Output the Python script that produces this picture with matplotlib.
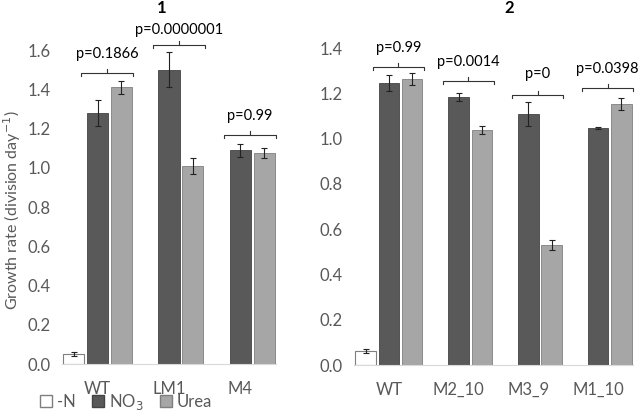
import matplotlib
matplotlib.use("Agg")
import matplotlib.pyplot as plt
from matplotlib.patches import Patch
import numpy as np

plt.rcParams['font.family'] = ['Lato', 'DejaVu Sans']

# ---- data: panel 1 ----
strains1 = ['WT', 'LM1', 'M4']
minusN1 = [0.05, None, None]
minusN1_err = [0.01, None, None]
no3_1 = [1.28, 1.50, 1.09]
no3_1_err = [0.066, 0.09, 0.033]
urea1 = [1.41, 1.01, 1.075]
urea1_err = [0.033, 0.04, 0.025]
pvals1 = ['p=0.1866', 'p=0.0000001', 'p=0.99']
bracket_y1 = [1.483, 1.625, 1.167]
ptext_y1 = [1.59, 1.71, 1.274]

# ---- data: panel 2 ----
strains2 = ['WT', 'M2_10', 'M3_9', 'M1_10']
minusN2 = [0.062, None, None, None]
minusN2_err = [0.01, None, None, None]
no3_2 = [1.245, 1.184, 1.109, 1.047]
no3_2_err = [0.035, 0.018, 0.053, 0.004]
urea2 = [1.263, 1.038, 0.53, 1.153]
urea2_err = [0.027, 0.018, 0.02, 0.027]
pvals2 = ['p=0.99', 'p=0.0014', 'p=0', 'p=0.0398']
bracket_y2 = [1.316, 1.254, 1.193, 1.223]
ptext_y2 = [1.405, 1.343, 1.294, 1.316]

C_NO3 = '#595959'
C_UREA = '#a6a6a6'
EDGE = '#7f7f7f'
TXT = '#595959'

fig = plt.figure(figsize=(6.38, 4.12), dpi=100)
ax1 = fig.add_axes([0.0972, 0.1165, 0.3354, 0.762])
ax2 = fig.add_axes([0.5549, 0.114, 0.4373, 0.7694])


def draw_panel(ax, strains, mn, mn_err, no3, no3_err, urea, urea_err, pvals, by, ty, ymax, ppu):
    x = np.arange(len(strains))
    w = 0.295
    off = 1 / 3
    ekw = dict(ecolor='#222222', elinewidth=0.8, capthick=0.8)
    for i in range(len(strains)):
        if mn[i] is not None:
            ax.bar(x[i] - off, mn[i], w, color='white', edgecolor=EDGE, linewidth=0.8,
                   yerr=mn_err[i], capsize=2, error_kw=ekw)
    ax.bar(x, no3, w, color=C_NO3, edgecolor='#444444', linewidth=0.6,
           yerr=no3_err, capsize=2, error_kw=ekw)
    ax.bar(x + off, urea, w, color=C_UREA, edgecolor=EDGE, linewidth=0.6,
           yerr=urea_err, capsize=2, error_kw=ekw)

    # significance brackets
    d = 3 / ppu
    for i in range(len(strains)):
        x0, x1 = x[i] - 0.23, x[i] + 0.5
        xm = (x0 + x1) / 2
        y = by[i]
        ax.plot([x0, x0, x1, x1], [y - d, y, y, y - d], color='#333333', lw=0.8, clip_on=False)
        ax.plot([xm, xm], [y, y + 4 / ppu], color='#333333', lw=0.8, clip_on=False)
        ax.text(xm, ty[i], pvals[i], ha='center', va='center_baseline', fontsize=10.5, color='black')

    ax.set_xlim(-0.5, len(strains) - 0.5)
    ax.set_ylim(0, ymax)
    ticks = np.arange(0, ymax + 0.01, 0.2)
    ax.set_yticks(ticks)
    ax.set_yticklabels([f'{v:.1f}' for v in ticks])
    ax.set_xticks(x)
    ax.set_xticklabels(strains)
    for s in ['top', 'right', 'left']:
        ax.spines[s].set_visible(False)
    ax.spines['bottom'].set_color('#d9d9d9')
    ax.tick_params(length=0, labelsize=12, colors=TXT, pad=12)
    ax.tick_params(axis='y', pad=8)


draw_panel(ax1, strains1, minusN1, minusN1_err, no3_1, no3_1_err, urea1, urea1_err,
           pvals1, bracket_y1, ptext_y1, 1.6, 196.25)
draw_panel(ax2, strains2, minusN2, minusN2_err, no3_2, no3_2_err, urea2, urea2_err,
           pvals2, bracket_y2, ptext_y2, 1.4, 226.4)

fig.text(162 / 638, 1 - 8 / 412, '1', ha='center', va='center', fontsize=12, fontweight='bold')
fig.text(509 / 638, 1 - 8 / 412, '2', ha='center', va='center', fontsize=12, fontweight='bold')

fig.text(12 / 638, 1 - 210 / 412, 'Growth rate (division day$^{-1}$)', rotation=90,
         ha='center', va='center', fontsize=11.5, color=TXT)

handles = [Patch(facecolor='white', edgecolor=EDGE, label='-N'),
           Patch(facecolor=C_NO3, edgecolor='#444444', label='NO$_3$'),
           Patch(facecolor=C_UREA, edgecolor=EDGE, label='Urea')]
fig.legend(handles=handles, loc='center left', bbox_to_anchor=(40 / 638, 1 - 402 / 412), ncol=3,
           frameon=False, fontsize=12, handlelength=0.7, handleheight=0.7, handletextpad=0.3,
           columnspacing=1.0, borderpad=0, borderaxespad=0, labelcolor=TXT)

fig.savefig('out.png', dpi=100)
